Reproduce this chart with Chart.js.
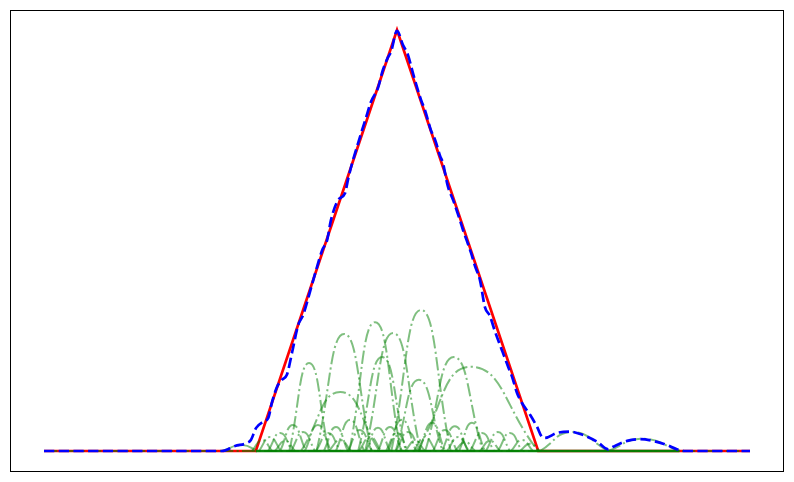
<!DOCTYPE html>
<html>
<head>
<meta charset="utf-8">
<script src="https://cdn.jsdelivr.net/npm/chart.js@4"></script>
<style>
    html, body { margin: 0; padding: 0; background: #ffffff; }
    #chart { display: block; }
</style>
</head>
<body>
<canvas id="chart" width="794" height="482"></canvas>
<script>
/*=============== TRIANGLE APPROXIMATION CHART ===============*/

// Target function (red)
const triangleX = [-1, -0.4, 0, 0.4, 1];
const triangleY = [0, 0, 1, 0, 0];

// Approximation (blue dashed)
const approxX = [-1, -0.496, -0.459, -0.425, -0.414, -0.399, -0.380, -0.365, -0.354, -0.340,
    -0.326, -0.312, -0.297, -0.280, -0.266, -0.246, -0.229, -0.212, -0.198, -0.187,
    -0.167, -0.147, -0.139, -0.127, -0.116, -0.099, -0.088, -0.074, -0.054, -0.040,
    -0.025, -0.017, 0, 0.017, 0.031, 0.045, 0.068, 0.079, 0.096, 0.108,
    0.122, 0.130, 0.144, 0.159, 0.178, 0.187, 0.210, 0.221, 0.235, 0.249,
    0.263, 0.278, 0.297, 0.314, 0.326, 0.340, 0.354, 0.377, 0.397, 0.411,
    0.419, 0.453, 0.490, 0.527, 0.567, 0.598, 0.612, 0.652, 0.688, 0.725,
    0.765, 0.793, 0.816, 1];
const approxY = [0, 0, 0.012, 0.019, 0.026, 0.055, 0.069, 0.078, 0.116, 0.152,
    0.169, 0.181, 0.235, 0.299, 0.323, 0.380, 0.430, 0.477, 0.501, 0.549,
    0.596, 0.613, 0.644, 0.684, 0.715, 0.762, 0.791, 0.829, 0.862, 0.905,
    0.936, 0.948, 0.998, 0.964, 0.941, 0.898, 0.834, 0.810, 0.762, 0.739,
    0.701, 0.684, 0.629, 0.596, 0.549, 0.525, 0.470, 0.439, 0.406, 0.342,
    0.321, 0.283, 0.240, 0.202, 0.176, 0.138, 0.114, 0.086, 0.057, 0.033,
    0.031, 0.043, 0.046, 0.038, 0.022, 0.004, 0.010, 0.024, 0.028, 0.024,
    0.014, 0.004, 0, 0];

// Individual bumps (green dash-dot): left foot, peak position, right foot, height
const arcLeft = [-0.305, -0.228, -0.272, -0.135, -0.090, -0.016, -0.004, 0.080, 0.055, -0.110,
    0.405, 0.598, -0.496,
    -0.411, -0.391, -0.365, -0.331, -0.300, -0.261, -0.229, -0.207, -0.173, -0.139,
    -0.108, -0.088, -0.054, -0.031, -0.025, -0.003, 0.048, 0.062, 0.102, 0.142,
    0.176, 0.207, 0.252, 0.286, 0.323, 0.348, -0.346, -0.193, 0.023, 0.164,
    0.235, 0.127];
const arcPeak = [-0.249, -0.150, -0.161, -0.062, -0.011, 0.068, 0.062, 0.161, 0.210, -0.042,
    0.496, 0.694, -0.439,
    -0.382, -0.360, -0.331, -0.295, -0.266, -0.224, -0.195, -0.173, -0.133, -0.105,
    -0.076, -0.054, -0.020, 0.000, 0.014, 0.031, 0.079, 0.099, 0.136, 0.173,
    0.212, 0.241, 0.286, 0.320, 0.354, 0.377, -0.317, -0.161, 0.051, 0.193,
    0.263, 0.164];
const arcRight = [-0.193, -0.072, -0.050, 0.011, 0.067, 0.152, 0.129, 0.243, 0.400, 0.025,
    0.598, 0.802, -0.394,
    -0.354, -0.329, -0.297, -0.258, -0.232, -0.187, -0.161, -0.139, -0.093, -0.071,
    -0.045, -0.020, 0.014, 0.031, 0.054, 0.065, 0.110, 0.136, 0.170, 0.204,
    0.249, 0.275, 0.320, 0.354, 0.385, 0.405, -0.289, -0.130, 0.079, 0.221,
    0.292, 0.201];
const arcHeight = [0.209, 0.278, 0.140, 0.306, 0.280, 0.335, 0.169, 0.223, 0.200, 0.223,
    0.045, 0.029, 0.014,
    0.026, 0.033, 0.043, 0.062, 0.045, 0.062, 0.043, 0.057, 0.074, 0.050,
    0.033, 0.055, 0.057, 0.043, 0.074, 0.045, 0.033, 0.067, 0.050, 0.033,
    0.067, 0.043, 0.045, 0.043, 0.026, 0.017, 0.024, 0.026, 0.024, 0.021,
    0.024, 0.059];

// Zero line shared by the bumps
const baseX = [-1, 1];
const baseY = [0, 0];
const denseBaseX = [-0.4, 0.8];
const denseBaseY = [0, 0];

const toPoints = (xs, ys) => xs.map((x, i) => ({ x: x, y: ys[i] }));

const greenDash = [13.3, 3.3, 2.1, 3.3];

// Frame around the plot area
const framePlugin = {
    id: 'frame',
    afterDraw(chart) {
        const { ctx, chartArea: a } = chart;
        ctx.save();
        ctx.strokeStyle = '#000000';
        ctx.lineWidth = 1;
        ctx.strokeRect(a.left - 0.5, a.top + 0.5, a.right - a.left, a.bottom - a.top);
        ctx.restore();
    }
};

document.addEventListener('DOMContentLoaded', () => {
    try {
        const datasets = [];

        datasets.push({
            label: 'approximation',
            data: toPoints(approxX, approxY),
            borderColor: '#0000ff',
            borderWidth: 2.7,
            borderDash: [10.3, 4.4],
            cubicInterpolationMode: 'monotone',
            order: 0
        });

        arcPeak.forEach((c, i) => {
            datasets.push({
                label: 'bump ' + i,
                data: toPoints([arcLeft[i], c, arcRight[i]], [0, arcHeight[i], 0]),
                borderColor: 'rgba(0, 128, 0, 0.5)',
                borderWidth: 2,
                borderDash: greenDash,
                tension: 0.5,
                order: 1
            });
        });

        datasets.push({
            label: 'zero',
            data: toPoints(baseX, baseY),
            borderColor: 'rgba(0, 128, 0, 0.6)',
            borderWidth: 2,
            borderDash: greenDash,
            order: 1
        });
        datasets.push({
            label: 'zero dense',
            data: toPoints(denseBaseX, denseBaseY),
            borderColor: 'rgba(0, 128, 0, 0.95)',
            borderWidth: 2.5,
            order: 1
        });

        datasets.push({
            label: 'target',
            data: toPoints(triangleX, triangleY),
            borderColor: '#ff0000',
            borderWidth: 2.7,
            tension: 0,
            order: 2
        });

        new Chart(document.getElementById('chart').getContext('2d'), {
            type: 'line',
            data: { datasets: datasets },
            options: {
                responsive: false,
                animation: false,
                layout: { padding: { left: 11, right: 10, top: 10, bottom: 11 } },
                elements: { point: { radius: 0 } },
                plugins: { legend: { display: false }, tooltip: { enabled: false } },
                scales: {
                    x: { type: 'linear', min: -1.0935, max: 1.0963, display: false },
                    y: { type: 'linear', min: -0.0475, max: 1.0475, display: false }
                }
            },
            plugins: [framePlugin]
        });
    } catch (error) {
        console.error('Error drawing chart:', error);
    }
});
</script>
</body>
</html>
